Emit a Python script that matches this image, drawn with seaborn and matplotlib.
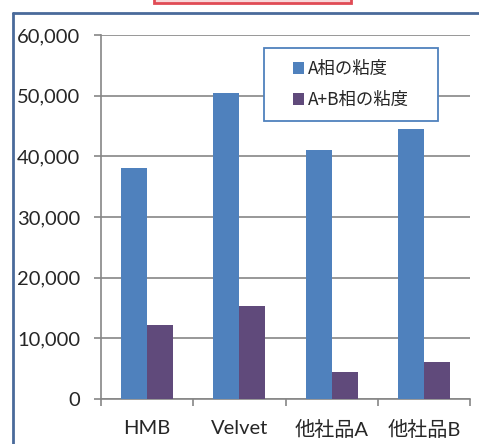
import numpy as np
import pandas as pd
import matplotlib
matplotlib.use("Agg")
import matplotlib.pyplot as plt
import seaborn as sns
from matplotlib.lines import Line2D
from matplotlib.patches import Rectangle
from matplotlib.ticker import FuncFormatter

# chart data
products = ["HMB", "Velvet", "他社品A", "他社品B"]
series_names = ["A相の粘度", "A+B相の粘度"]
a_viscosity = [38000, 50400, 41000, 44500]
ab_viscosity = [12200, 15300, 4400, 6100]
y_ticks = [0, 10000, 20000, 30000, 40000, 50000, 60000]

df = pd.DataFrame({
    "product": products * 2,
    "series": [series_names[0]] * 4 + [series_names[1]] * 4,
    "value": a_viscosity + ab_viscosity,
})

sns.set_style("white")
plt.rcParams["font.family"] = ["Lato", "Noto Sans CJK JP", "DejaVu Sans"]

W, H = 479, 444
fig = plt.figure(figsize=(W / 100, H / 100), dpi=100)
ax = fig.add_axes([101 / W, 1 - 399 / H, 369 / W, 364 / H])

sns.barplot(data=df, x="product", y="value", hue="series",
            palette=["#4F81BD", "#604A7B"], width=0.565, saturation=1,
            edgecolor="none", ax=ax, zorder=3)

ax.set_ylim(0, 60000)
ax.set_xlim(-0.5, 3.5)
ax.set_yticks(y_ticks)
ax.yaxis.set_major_formatter(FuncFormatter(lambda v, p: f"{int(v):,}"))
ax.grid(axis="y", color="#868686", linewidth=1.2, zorder=0)
ax.set_xlabel("")
ax.set_ylabel("")

for s in ["top", "right"]:
    ax.spines[s].set_visible(False)
for s in ["left", "bottom"]:
    ax.spines[s].set_color("#868686")
    ax.spines[s].set_linewidth(1.2)

ax.tick_params(axis="y", which="both", direction="out", length=5, width=1.2,
               color="#868686", labelsize=14.5, pad=10, left=True)
ax.set_xticks([-0.5, 0.5, 1.5, 2.5, 3.5], minor=False)
ax.set_xticklabels([])
ax.set_xticks([0, 1, 2, 3], minor=True)
ax.set_xticklabels(products, minor=True)
ax.tick_params(axis="x", which="major", direction="out", length=5, width=1.2,
               color="#868686", bottom=True)
ax.tick_params(axis="x", which="minor", length=0, labelsize=14.5, pad=15)

# legend content without frame, frame drawn as a separate box behind it
handles, labels = ax.get_legend_handles_labels()
ax.get_legend().remove()
leg = fig.legend(handles, labels, loc="center",
                 bbox_to_anchor=(351 / W, 1 - 84.5 / H), frameon=False,
                 prop={"family": ["Noto Sans CJK JP"], "size": 12.5},
                 handlelength=0.63, handleheight=0.63, handletextpad=0.25,
                 labelspacing=0.75, borderpad=0)
leg.set_zorder(10)
fig.add_artist(Rectangle((264 / W, 1 - 121 / H), 174 / W, 73 / H,
                         facecolor="white", edgecolor="#4F81BD",
                         linewidth=1.3, zorder=5))

# outer frame lines and the cropped title box
fig.add_artist(Line2D([13 / W, 1], [1 - 13 / H, 1 - 13 / H],
                      color="#4A6A9A", linewidth=2))
fig.add_artist(Line2D([13 / W, 13 / W], [0, 1 - 13 / H],
                      color="#4A6A9A", linewidth=2))
fig.add_artist(Rectangle((154 / W, 1 - 3 / H), 197 / W, 0.02,
                         facecolor="#F8D8DA", edgecolor="#E04B55", linewidth=2))

fig.savefig("out.png", dpi=100)
